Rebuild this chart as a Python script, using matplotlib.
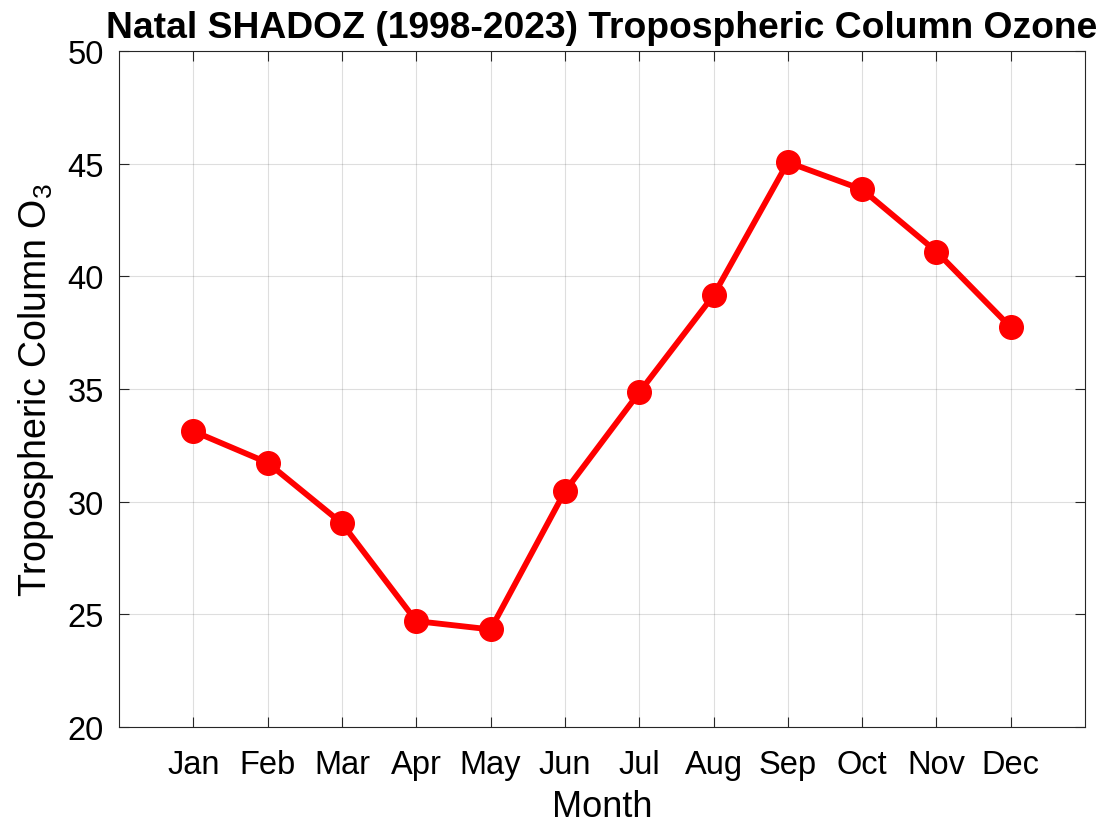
import numpy as np
import matplotlib
matplotlib.use('Agg')
import matplotlib.pyplot as plt

# 字体设置：MATLAB风格的Arial -> Liberation Sans
plt.rcParams['font.family'] = ['Liberation Sans', 'DejaVu Sans']
plt.rcParams['mathtext.fontset'] = 'custom'
plt.rcParams['mathtext.rm'] = 'Liberation Sans'
plt.rcParams['mathtext.it'] = 'Liberation Sans'

# 数据
months = ['Jan', 'Feb', 'Mar', 'Apr', 'May', 'Jun', 'Jul', 'Aug', 'Sep', 'Oct', 'Nov', 'Dec']
month_idx = np.arange(1, 13)
ozone = [33.13, 31.73, 29.04, 24.70, 24.33, 30.46, 34.85, 39.16, 45.07, 43.86, 41.10, 37.74]
y_ticks = [20, 25, 30, 35, 40, 45, 50]

axis_color = (0.15, 0.15, 0.15)

fig = plt.figure(figsize=(11.05, 8.28), dpi=100)
ax = fig.add_axes([0.1077, 0.1208, 0.8743, 0.8162])

ax.plot(month_idx, ozone, '-o', color='red', linewidth=4.2, markersize=17)

ax.set_xlim(0, 13)
ax.set_ylim(20, 50)
ax.set_xticks(month_idx)
ax.set_xticklabels(months)
ax.set_yticks(y_ticks)

ax.grid(True, color=axis_color, alpha=0.15, linewidth=0.8)
ax.set_axisbelow(True)

ax.tick_params(direction='in', length=7, width=0.8, colors=axis_color,
               labelcolor='black', labelsize=23.5, top=True, right=True)
ax.tick_params(axis='x', pad=16)
ax.tick_params(axis='y', pad=11)
for s in ax.spines.values():
    s.set_color(axis_color)
    s.set_linewidth(0.8)

ax.set_xlabel('Month', fontsize=26, labelpad=6)
ax.set_ylabel('Tropospheric Column O$_3$', fontsize=27, labelpad=8)
ax.set_title('Natal SHADOZ (1998-2023) Tropospheric Column Ozone',
             fontsize=26.8, fontweight='bold', pad=10)

fig.savefig('out.png', dpi=100)
